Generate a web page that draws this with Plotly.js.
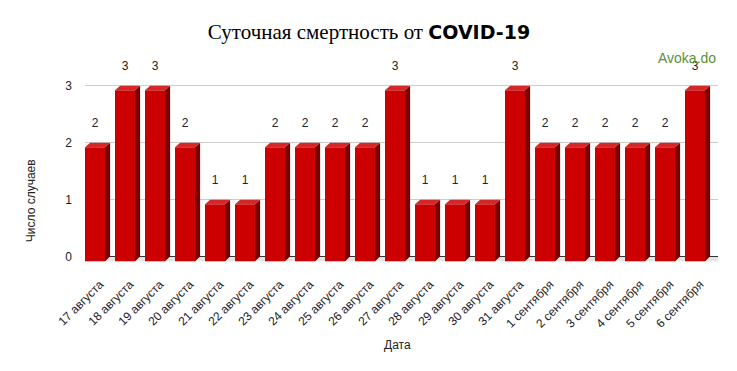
<!DOCTYPE html>
<html><head><meta charset="utf-8">
<script src="https://cdn.plot.ly/plotly-3.0.1.min.js"></script>
<style>html,body{margin:0;padding:0;background:#fff}#c{width:737px;height:371px}</style>
</head><body><div id="c"></div>
<script>
const dates = ["17 августа","18 августа","19 августа","20 августа","21 августа","22 августа","23 августа","24 августа","25 августа","26 августа","27 августа","28 августа","29 августа","30 августа","31 августа","1 сентября","2 сентября","3 сентября","4 сентября","5 сентября","6 сентября"];
const deaths = [2,3,3,2,1,1,2,2,2,2,3,1,1,1,3,2,2,2,2,2,3];

const idx = dates.map((_, i) => i);
const W = 2/3, OFF = -0.5;      // front face width / offset in slot units
const DX = 0.17, DY = 0.08;      // 3D depth in axis units
const front = '#cc0000', side = '#7a0000', topc = '#d42828';

// side and top polygons computed from data
const sx = [], sy = [], tx = [], ty = [];
idx.forEach((i) => {
  const v = deaths[i];
  const r = i + OFF + W, l = i + OFF;
  sx.push(r, r + DX, r + DX, r, r, null);
  sy.push(v - DY, v, 0, -DY, v - DY, null);
  tx.push(l, l + DX, r + DX, r, l, null);
  ty.push(v - DY, v, v, v - DY, v - DY, null);
});

const traces = [
  {type:'bar', x: idx, y: deaths, base: deaths.map(() => -DY), width: W, offset: OFF,
   marker:{color: front, line:{width:0}}, hoverinfo:'skip'},
  {type:'scatter', x: sx, y: sy, mode:'lines', fill:'toself', fillcolor: side,
   line:{width:0, color: side}, hoverinfo:'skip'},
  {type:'scatter', x: tx, y: ty, mode:'lines', fill:'toself', fillcolor: topc,
   line:{width:0, color: topc}, hoverinfo:'skip'},
  {type:'scatter', x: idx.map(i => i + OFF + W/2), y: deaths.map(v => v + 0.33),
   mode:'text', text: deaths.map(String), cliponaxis: false,
   textfont:{family:'Liberation Sans, Arial', size:12, color:'#222'},
   hoverinfo:'skip'}
];

const xr = [-0.5, 20.6];
const layout = {
  width: 737, height: 371,
  margin: {l: 85, r: 19, t: 63, b: 103},
  paper_bgcolor: '#fff', plot_bgcolor: '#fff',
  showlegend: false,
  title: {
    text: '<span style="font-family:Liberation Serif, Times New Roman, serif">Суточная смертность от </span><b><span style="font-family:DejaVu Sans, Verdana, sans-serif;font-size:19px">COVID-19</span></b>',
    font: {family: 'Liberation Serif, serif', size: 21, color: '#000'},
    x: 369/737, xref: 'container', xanchor: 'center', y: 0.915, yref: 'container', yanchor: 'middle'
  },
  xaxis: {
    range: xr, tickvals: idx, ticktext: dates, tickangle: -45,
    showgrid: false, zeroline: false, showline: false, ticks: '',
    ticklabelstandoff: 6,
    tickfont: {family: 'Liberation Sans, Arial', size: 12, color: '#222'}
  },
  yaxis: {
    range: [-0.2, 3.4], tickvals: [0,1,2,3], showgrid: true, gridcolor: '#cccccc',
    zeroline: true, zerolinecolor: '#333', zerolinewidth: 1, ticks: '',
    ticklabelstandoff: 12,
    tickfont: {family: 'Liberation Sans, Arial', size: 12, color: '#222'}
  },
  shapes: [
    {type:'path', xref:'x', yref:'y', layer:'below',
     path: `M ${xr[0]} ${-DY} L ${xr[0] + DX} 0 L ${xr[1]} 0 L ${xr[1]} ${-DY} Z`,
     fillcolor:'#e4e4e4', line:{width:0}}
  ],
  annotations: [
    {text:'Число случаев', textangle:-90, xref:'paper', yref:'paper', x:-0.084, y:0.33,
     xanchor:'center', yanchor:'middle',
     showarrow:false, font:{family:'Liberation Sans, Arial', size:12, color:'#222'}},
    {text:'Дата', xref:'paper', yref:'paper', x:0.494, y:-0.375, xanchor:'center', yanchor:'middle',
     showarrow:false, font:{family:'Liberation Sans, Arial', size:12, color:'#222'}},
    {text:'Avoka.do', xref:'paper', yref:'paper', x:1.0, xanchor:'right', y:1.025, yanchor:'middle',
     showarrow:false, font:{family:'Liberation Sans, Arial', size:14, color:'#5a8f3c'}}
  ]
};

Plotly.newPlot('c', traces, layout, {staticPlot: true, displayModeBar: false});
</script></body></html>
